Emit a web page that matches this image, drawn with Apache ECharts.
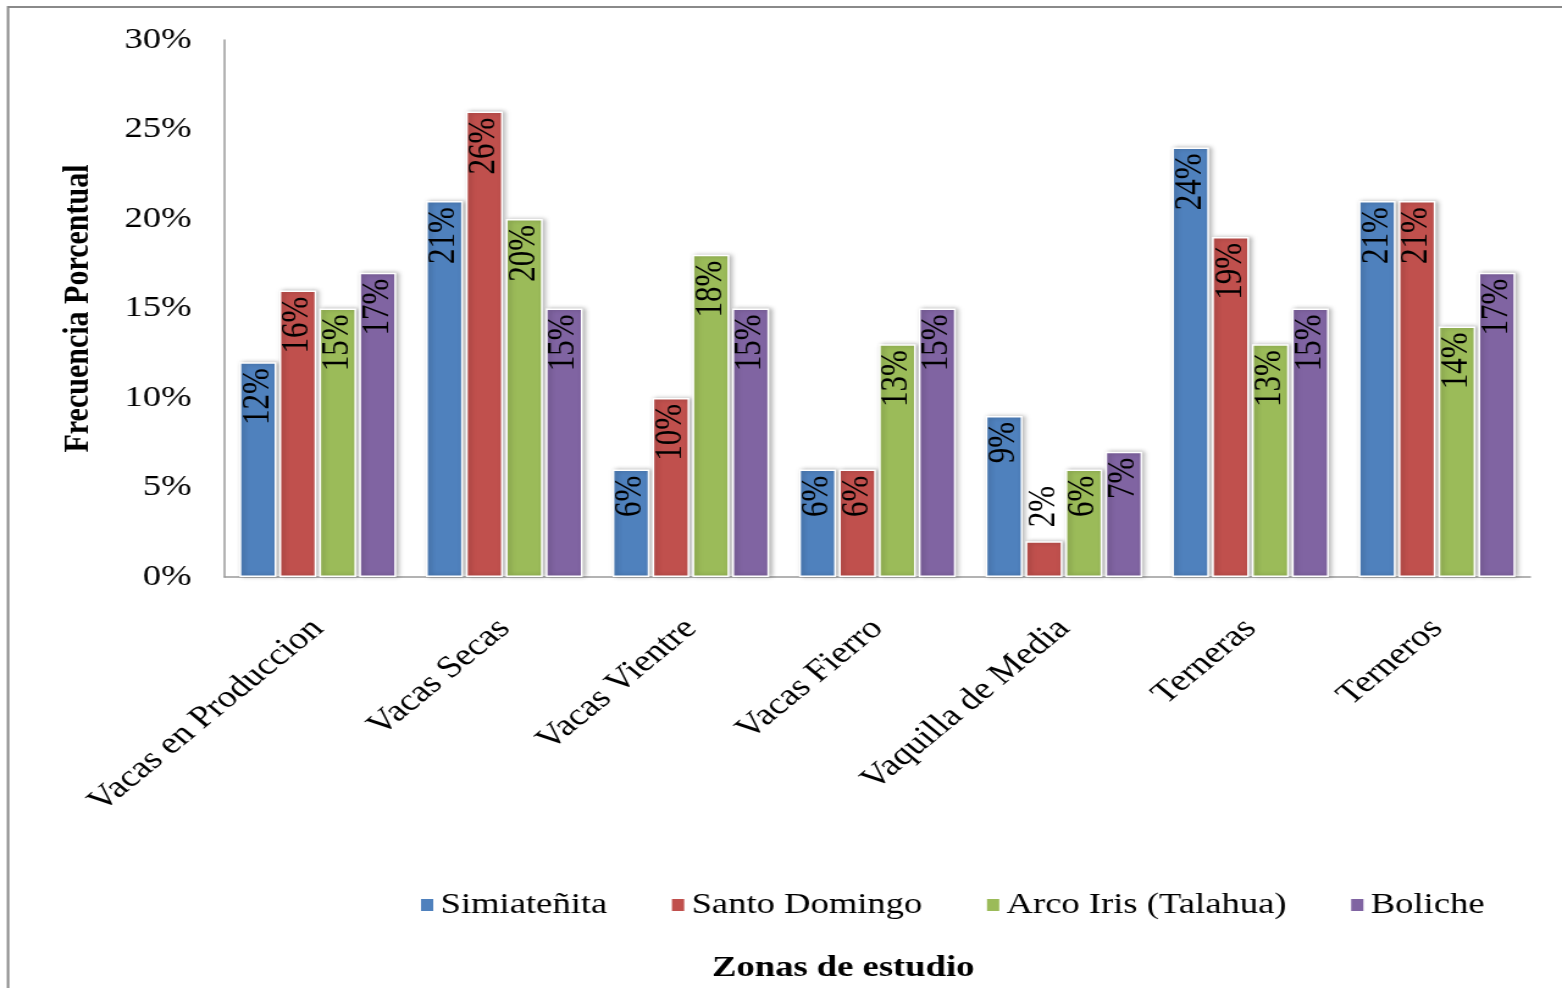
<!DOCTYPE html>
<html>
<head>
<meta charset="utf-8">
<title>Frecuencia Porcentual por Zonas de estudio</title>
<script src="https://cdn.jsdelivr.net/npm/echarts@6/dist/echarts.min.js"></script>
<style>
  html, body { margin: 0; padding: 0; background: #fff; overflow: hidden; }
  /* the chart is laid out at a narrower width and widened horizontally */
  #chart { width: 1280px; height: 988px; transform: scaleX(1.2203); transform-origin: 0 0; }
</style>
</head>
<body>
<div id="chart"></div>
<script>
// Categories (x axis)
const categories = [
  'Vacas en Produccion', 'Vacas Secas', 'Vacas Vientre', 'Vacas Fierro',
  'Vaquilla de Media', 'Terneras', 'Terneros'
];

// Percentage values per zone
const simiatenita   = [12, 21, 6, 6, 9, 24, 21];
const santoDomingo  = [16, 26, 10, 6, 2, 19, 21];
const arcoIris      = [15, 20, 18, 13, 6, 13, 14];
const boliche       = [17, 15, 15, 15, 7, 15, 17];

const seriesNames = ['Simiateñita', 'Santo Domingo', 'Arco Iris (Talahua)', 'Boliche'];
const seriesValues = [simiatenita, santoDomingo, arcoIris, boliche];
const seriesColors = ['#4F81BD', '#C0504D', '#9BBB59', '#8064A2'];

// Y axis range (percent)
const yMin = 0, yMax = 30, yStep = 5;

const serif = 'Liberation Serif';

const labelInside = {
  show: true,
  position: 'insideTop',
  rotate: 90,
  align: 'right',
  verticalAlign: 'middle',
  distance: 6,
  formatter: '{c}%',
  color: '#000',
  fontFamily: serif,
  fontSize: 31
};
// short bars cannot hold their label, so it sits above them
const labelAbove = Object.assign({}, labelInside, {
  position: 'top', align: 'left', distance: 14
});

const series = seriesNames.map((name, i) => ({
  name: name,
  type: 'bar',
  barGap: '8%',
  barCategoryGap: '16%',
  itemStyle: {
    color: seriesColors[i],
    borderColor: '#fff',
    borderWidth: 1.5,
    shadowBlur: 4,
    shadowOffsetX: 2,
    shadowOffsetY: 0,
    shadowColor: 'rgba(0,0,0,0.28)'
  },
  label: labelInside,
  data: seriesValues[i].map(v => v < 4 ? { value: v, label: labelAbove } : v)
}));

const chart = echarts.init(document.getElementById('chart'), null, { renderer: 'canvas' });
chart.setOption({
  animation: false,
  backgroundColor: '#fff',
  grid: { left: 184, right: 26, top: 40, bottom: 411, containLabel: false },
  legend: {
    left: 338,
    top: 885,
    itemWidth: 12,
    itemHeight: 14,
    itemGap: 51,
    icon: 'rect',
    textStyle: { fontFamily: serif, fontSize: 30, color: '#000', padding: [0, 0, 0, 0] },
    data: seriesNames
  },
  xAxis: {
    type: 'category',
    data: categories,
    axisLine: { show: true, lineStyle: { color: '#9a9a9a', width: 1.5 } },
    axisTick: { show: false },
    axisLabel: {
      interval: 0,
      rotate: 45,
      margin: 47,
      fontFamily: serif,
      fontSize: 31,
      color: '#000'
    }
  },
  yAxis: {
    type: 'value',
    min: yMin,
    max: yMax,
    interval: yStep,
    name: 'Frecuencia Porcentual',
    nameLocation: 'middle',
    nameGap: 105,
    nameRotate: 90,
    nameTextStyle: { fontFamily: serif, fontSize: 30, fontWeight: 'bold', color: '#000' },
    axisLine: { show: true, lineStyle: { color: '#9a9a9a', width: 1.5 } },
    axisTick: { show: false },
    splitLine: { show: false },
    axisLabel: {
      formatter: '{value}%',
      margin: 27,
      fontFamily: serif,
      fontSize: 30,
      color: '#000'
    }
  },
  graphic: [
    {
      type: 'rect',
      silent: true,
      shape: { x: 6.6, y: 7, width: 1400, height: 1100 },
      style: { fill: 'none', stroke: '#8a8a8a', lineWidth: 2 }
    },
    {
      type: 'text',
      silent: true,
      x: 691,
      y: 968,
      style: {
        text: 'Zonas de estudio',
        fontFamily: serif,
        fontSize: 30,
        fontWeight: 'bold',
        fill: '#000',
        textAlign: 'center',
        textVerticalAlign: 'middle'
      }
    }
  ],
  series: series
});
</script>
</body>
</html>
